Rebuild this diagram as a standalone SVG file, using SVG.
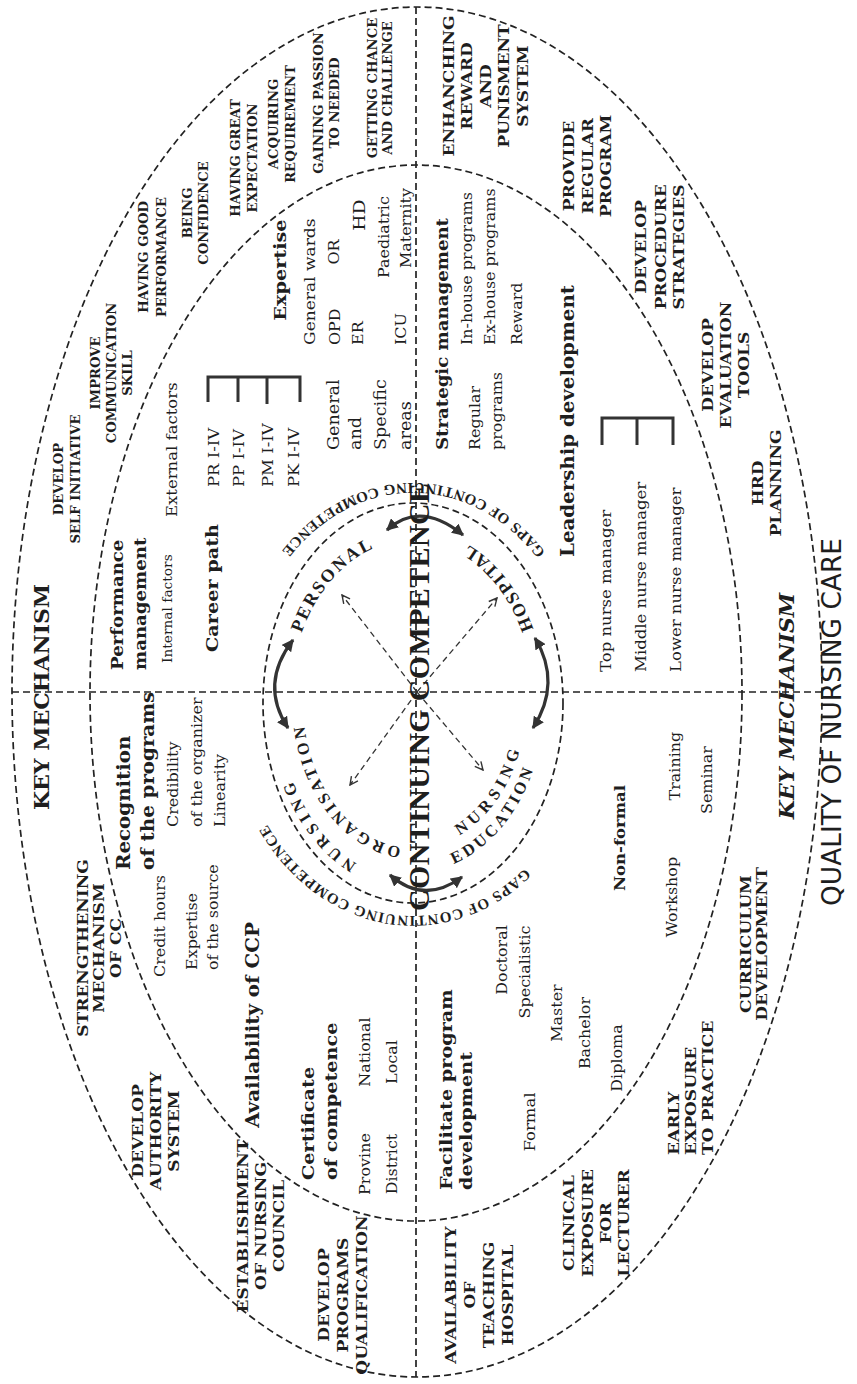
<svg xmlns="http://www.w3.org/2000/svg" width="857" height="1384" viewBox="0 0 857 1384">
<style>
.dash{fill:none;stroke:#222;stroke-width:1.7;stroke-dasharray:7 4}
.thick{fill:none;stroke:#333;stroke-width:3.2}
.darr{fill:none;stroke:#333;stroke-width:1.3;stroke-dasharray:6 4}
.brk{fill:none;stroke:#333;stroke-width:3}
.t{font-family:"DejaVu Serif","Liberation Serif",serif;fill:#1e1e1e;dominant-baseline:central}
.t text{dominant-baseline:central}
.sc{font-size:12px;font-weight:bold;text-anchor:middle}
.lc{font-size:15.5px;font-weight:bold;text-anchor:middle}
.km{font-size:20px;font-weight:bold;text-anchor:middle}
.st{text-anchor:start}
.md{text-anchor:middle}
.b{font-weight:bold}
.cl{font-family:"Liberation Serif","Times New Roman",serif;font-weight:bold;fill:#1e1e1e}
</style>
<defs>
<marker id="ah" viewBox="0 0 10 10" refX="9" refY="5" markerWidth="12" markerHeight="12" markerUnits="userSpaceOnUse" orient="auto-start-reverse"><path d="M0,0 L10,5 L0,10 z" fill="#333"/></marker>
<marker id="oa" viewBox="0 0 10 10" refX="9" refY="5" markerWidth="10" markerHeight="10" markerUnits="userSpaceOnUse" orient="auto"><path d="M1,1 L9,5 L1,9" fill="none" stroke="#333" stroke-width="1.4" stroke-dasharray="none"/></marker>
<path id="pGapsTop" d="M 545.4 552.6 A 181 219 0 0 0 256.3 592.5"/>
<path id="pGapsBot" d="M 525 868.3 A 178 214 0 0 1 248 782.2"/>
<path id="pPersonal" d="M 301.5 633.1 A 122 162 0 0 1 402.3 540.5"/>
<path id="pHospital" d="M 533.5 628.9 A 133 173 0 0 0 424.6 529.7"/>
<path id="pOrg" d="M 401.3 847.2 A 110 146 0 0 1 303 702"/>
<path id="pNurs1" d="M 356.8 863.5 A 134 178 0 0 1 281 733"/>
<path id="pNurs2" d="M 459.4 835.2 A 113 146 0 0 0 525.6 714.9"/>
<path id="pEdu" d="M 453.9 863.8 A 131 170 0 0 0 542 731.5"/>
</defs>
<rect width="857" height="1384" fill="#fff"/>

<g id="frame">
<ellipse class="dash" cx="417" cy="692" rx="405" ry="685"/>
<ellipse class="dash" cx="416" cy="693" rx="326" ry="528"/>
<ellipse class="dash" cx="413" cy="703" rx="150" ry="200"/>
<line class="dash" x1="12" y1="692" x2="822" y2="692"/>
<line class="dash" x1="416" y1="7" x2="416" y2="1377"/>
</g>

<g id="connectors">
<path class="thick" d="M 387 530 Q 420 500 463 535" marker-start="url(#ah)" marker-end="url(#ah)"/>
<path class="thick" d="M 293 640 Q 259 684 288 728" marker-start="url(#ah)" marker-end="url(#ah)"/>
<path class="thick" d="M 535 638 Q 562 683 533 728" marker-start="url(#ah)" marker-end="url(#ah)"/>
<path class="thick" d="M 390 875 Q 424 905 462 877" marker-start="url(#ah)" marker-end="url(#ah)"/>
<line class="darr" x1="417" y1="692" x2="342" y2="595" marker-end="url(#oa)"/>
<line class="darr" x1="417" y1="692" x2="497" y2="598" marker-end="url(#oa)"/>
<line class="darr" x1="417" y1="692" x2="350" y2="785" marker-end="url(#oa)"/>
<line class="darr" x1="417" y1="692" x2="483" y2="770" marker-end="url(#oa)"/>
<path class="brk" d="M 208 402 L 208 377 L 300 377 L 300 402 M 238 377 L 238 402 M 267 377 L 267 404"/>
<path class="brk" d="M 602 445 L 602 418 L 673 418 L 673 445 M 637 418 L 637 445"/>
</g>

<g id="center">
<text class="cl" font-size="30" transform="translate(429,697) rotate(-90)" text-anchor="middle" textLength="428" lengthAdjust="spacing">CONTINUING COMPETENCE</text>
<text class="cl" font-size="15"><textPath href="#pGapsTop" textLength="308" lengthAdjust="spacing">GAPS OF CONTINUING COMPETENCE</textPath></text>
<text class="cl" font-size="15"><textPath href="#pGapsBot" textLength="305" lengthAdjust="spacing">GAPS OF CONTINUING COMPETENCE</textPath></text>
</g>
<g id="n-personal"><text class="cl" font-size="18"><textPath href="#pPersonal" textLength="114" lengthAdjust="spacing">PERSONAL</textPath></text></g>
<g id="n-hospital"><text class="cl" font-size="18"><textPath href="#pHospital" textLength="108" lengthAdjust="spacing">HOSPITAL</textPath></text></g>
<g id="n-nursing-organisation">
<text class="cl" font-size="16.5"><textPath href="#pNurs1" textLength="106" lengthAdjust="spacing">NURSING</textPath></text>
<text class="cl" font-size="16.5"><textPath href="#pOrg" textLength="166" lengthAdjust="spacing">ORGANISATION</textPath></text>
</g>
<g id="n-nursing-education">
<text class="cl" font-size="16.5"><textPath href="#pNurs2" textLength="106" lengthAdjust="spacing">NURSING</textPath></text>
<text class="cl" font-size="16.5"><textPath href="#pEdu" textLength="126" lengthAdjust="spacing">EDUCATION</textPath></text>
</g>

<text font-family="DejaVu Sans, Liberation Sans, sans-serif" font-size="26" fill="#1e1e1e" transform="translate(841,722) rotate(-90)" text-anchor="middle" textLength="368" lengthAdjust="spacingAndGlyphs">QUALITY OF NURSING CARE</text>

<g id="labels" transform="matrix(0,-1.1,1,0,0,0)" class="t">
<g id="n-km-left"><text class="km" x="-633.6" y="42">KEY MECHANISM</text></g>
<g id="n-km-right"><text class="km" x="-641.8" y="787" font-style="italic">KEY MECHANISM</text></g>

<g id="n-self-initiative"><text class="sc"><tspan x="-435.5" y="58">DEVELOP</tspan><tspan x="-435.5" y="75">SELF INITIATIVE</tspan></text></g>
<g id="n-communication"><text class="sc"><tspan x="-339.1" y="95">IMPROVE</tspan><tspan x="-339.1" y="111">COMMUNICATION</tspan><tspan x="-339.1" y="127">SKILL</tspan></text></g>
<g id="n-performance"><text class="sc"><tspan x="-233.6" y="143">HAVING GOOD</tspan><tspan x="-233.6" y="161">PERFORMANCE</tspan></text></g>
<g id="n-confidence"><text class="sc"><tspan x="-193.6" y="187">BEING</tspan><tspan x="-193.6" y="203">CONFIDENCE</tspan></text></g>
<g id="n-expectation"><text class="sc"><tspan x="-143.6" y="235">HAVING GREAT</tspan><tspan x="-143.6" y="252">EXPECTATION</tspan></text></g>
<g id="n-requirement"><text class="sc"><tspan x="-112.7" y="273">ACQUIRING</tspan><tspan x="-112.7" y="290">REQUIREMENT</tspan></text></g>
<g id="n-passion"><text class="sc"><tspan x="-93.6" y="318">GAINING PASSION</tspan><tspan x="-93.6" y="334">TO NEEDED</tspan></text></g>
<g id="n-chance"><text class="sc"><tspan x="-80" y="372">GETTING CHANCE</tspan><tspan x="-80" y="387">AND CHALLENGE</tspan></text></g>

<g id="n-reward-system"><text class="lc"><tspan x="-78.2" y="448">ENHANCHING</tspan><tspan x="-78.2" y="466">REWARD</tspan><tspan x="-78.2" y="485">AND</tspan><tspan x="-78.2" y="503">PUNISMENT</tspan><tspan x="-78.2" y="522">SYSTEM</tspan></text></g>
<g id="n-regular-program"><text class="lc"><tspan x="-150.9" y="568">PROVIDE</tspan><tspan x="-150.9" y="587">REGULAR</tspan><tspan x="-150.9" y="605">PROGRAM</tspan></text></g>
<g id="n-procedure"><text class="lc"><tspan x="-224.5" y="640">DEVELOP</tspan><tspan x="-224.5" y="660">PROCEDURE</tspan><tspan x="-224.5" y="678">STRATEGIES</tspan></text></g>
<g id="n-evaluation"><text class="lc"><tspan x="-331.8" y="707">DEVELOP</tspan><tspan x="-331.8" y="725">EVALUATION</tspan><tspan x="-331.8" y="743">TOOLS</tspan></text></g>
<g id="n-hrd"><text class="lc"><tspan x="-439.1" y="757">HRD</tspan><tspan x="-439.1" y="775">PLANNING</tspan></text></g>
<g id="n-strengthening"><text class="lc"><tspan x="-861.8" y="82">STRENGTHENING</tspan><tspan x="-861.8" y="98">MECHANISM</tspan><tspan x="-861.8" y="115">OF CC</tspan></text></g>
<g id="n-authority"><text class="lc"><tspan x="-1028.2" y="137">DEVELOP</tspan><tspan x="-1028.2" y="155">AUTHORITY</tspan><tspan x="-1028.2" y="173">SYSTEM</tspan></text></g>
<g id="n-council"><text class="lc"><tspan x="-1114.5" y="242">ESTABLISHMENT</tspan><tspan x="-1114.5" y="260">OF NURSING</tspan><tspan x="-1114.5" y="278">COUNCIL</tspan></text></g>
<g id="n-qualification"><text class="lc"><tspan x="-1177.3" y="323">DEVELOP</tspan><tspan x="-1177.3" y="342">PROGRAMS</tspan><tspan x="-1177.3" y="361">QUALIFICATION</tspan></text></g>
<g id="n-curriculum"><text class="lc"><tspan x="-858.2" y="745">CURRICULUM</tspan><tspan x="-858.2" y="761">DEVELOPMENT</tspan></text></g>
<g id="n-early-exposure"><text class="lc st"><tspan x="-1050" y="673">EARLY</tspan><tspan x="-1050" y="690">EXPOSURE</tspan><tspan x="-1050" y="707">TO PRACTICE</tspan></text></g>
<g id="n-clinical"><text class="lc"><tspan x="-1111.8" y="568">CLINICAL</tspan><tspan x="-1111.8" y="587">EXPOSURE</tspan><tspan x="-1111.8" y="605">FOR</tspan><tspan x="-1111.8" y="623">LECTURER</tspan></text></g>
<g id="n-teaching-hospital"><text class="lc"><tspan x="-1177.3" y="450">AVAILABILITY</tspan><tspan x="-1177.3" y="469">OF</tspan><tspan x="-1177.3" y="488">TEACHING</tspan><tspan x="-1177.3" y="507">HOSPITAL</tspan></text></g>

<g id="n-performance-mgmt">
<text class="b st" font-size="16.5"><tspan x="-609.1" y="117">Performance</tspan><tspan x="-609.1" y="140">management</tspan></text>
<text class="st" font-size="12.5" x="-602.7" y="168">Internal factors</text>
<text class="st" font-size="15" x="-470" y="172">External factors</text>
</g>
<g id="n-career-path">
<text class="b st" font-size="17.5" x="-592.7" y="212">Career path</text>
<text class="st" font-size="15"><tspan x="-442.7" y="213">PR I-IV</tspan><tspan x="-442.7" y="238">PP I-IV</tspan><tspan x="-442.7" y="267">PM I-IV</tspan><tspan x="-442.7" y="293">PK I-IV</tspan></text>
<text class="st" font-size="16"><tspan x="-409.1" y="333">General</tspan><tspan x="-409.1" y="355">and</tspan><tspan x="-409.1" y="380">Specific</tspan><tspan x="-409.1" y="405">areas</tspan></text>
</g>
<g id="n-expertise">
<text class="b md" font-size="17.5" x="-245.5" y="280">Expertise</text>
<text class="st" font-size="15.5" x="-313.6" y="310">General wards</text>
<text class="st" font-size="14.5"><tspan x="-313.6" y="335">OPD</tspan><tspan x="-313.6" y="358">ER</tspan><tspan x="-313.6" y="401">ICU</tspan></text>
<text class="md" font-size="14.5" x="-229.1" y="334">OR</text>
<text class="md" font-size="17" x="-195.5" y="359">HD</text>
<text class="md" font-size="14.5" x="-215.5" y="384">Paediatric</text>
<text class="md" font-size="14.5" x="-207.3" y="406">Maternity</text>
</g>
<g id="n-strategic">
<text class="b st" font-size="16.5" x="-409.1" y="442">Strategic management</text>
<text class="st" font-size="14.5"><tspan x="-409.1" y="475">Regular</tspan><tspan x="-409.1" y="497">programs</tspan></text>
<text class="st" font-size="14.5"><tspan x="-313.6" y="467">In-house programs</tspan><tspan x="-313.6" y="490">Ex-house programs</tspan><tspan x="-313.6" y="517">Reward</tspan></text>
</g>
<g id="n-leadership">
<text class="b st" font-size="18" x="-506.4" y="567">Leadership development</text>
<text class="st" font-size="15"><tspan x="-610.9" y="605">Top nurse manager</tspan><tspan x="-610.9" y="640">Middle nurse manager</tspan><tspan x="-610.9" y="675">Lower nurse manager</tspan></text>
</g>
<g id="n-recognition">
<text class="b st" font-size="18"><tspan x="-790.9" y="123">Recognition</tspan><tspan x="-790.9" y="147">of the programs</tspan></text>
<text class="st" font-size="14.5" x="-888.2" y="160">Credit hours</text>
<text class="st" font-size="14.5"><tspan x="-751.8" y="173">Credibility</tspan><tspan x="-751.8" y="197">of the organizer</tspan></text>
<text class="st" font-size="14.5"><tspan x="-881.8" y="192">Expertise</tspan><tspan x="-881.8" y="213">of the source</tspan></text>
<text class="st" font-size="14.5" x="-751.8" y="220">Linearity</text>
</g>
<g id="n-availability-ccp">
<text class="b md" font-size="18" x="-931.8" y="252">Availability of CCP</text>
<text class="b st" font-size="17.5"><tspan x="-1072.7" y="307">Certificate</tspan><tspan x="-1072.7" y="330">of competence</tspan></text>
<text class="md" font-size="14.5"><tspan x="-1058.2" y="365">Provine</tspan><tspan x="-1058.2" y="392">District</tspan></text>
<text class="md" font-size="14.5" x="-956.4" y="365">National</text>
<text class="md" font-size="14.5" x="-965.5" y="392">Local</text>
</g>
<g id="n-facilitate">
<text class="b st" font-size="17.5"><tspan x="-1081.8" y="445">Facilitate program</tspan><tspan x="-1081.8" y="465">development</tspan></text>
<text class="md" font-size="15" x="-1020" y="530">Formal</text>
<text class="md" font-size="14.5" x="-872.7" y="502">Doctoral</text>
<text class="md" font-size="14.5" x="-883.6" y="525">Specialistic</text>
<text class="md" font-size="14.5" x="-920.9" y="557">Master</text>
<text class="md" font-size="14.5" x="-939.1" y="585">Bachelor</text>
<text class="md" font-size="14.5" x="-961.8" y="617">Diploma</text>
<text class="b md" font-size="15" x="-761.8" y="620">Non-formal</text>
<text class="md" font-size="14.5" x="-696.4" y="675">Training</text>
<text class="md" font-size="14.5" x="-709.1" y="707">Seminar</text>
<text class="md" font-size="14.5" x="-815.5" y="672">Workshop</text>
</g>
</g>
</svg>
